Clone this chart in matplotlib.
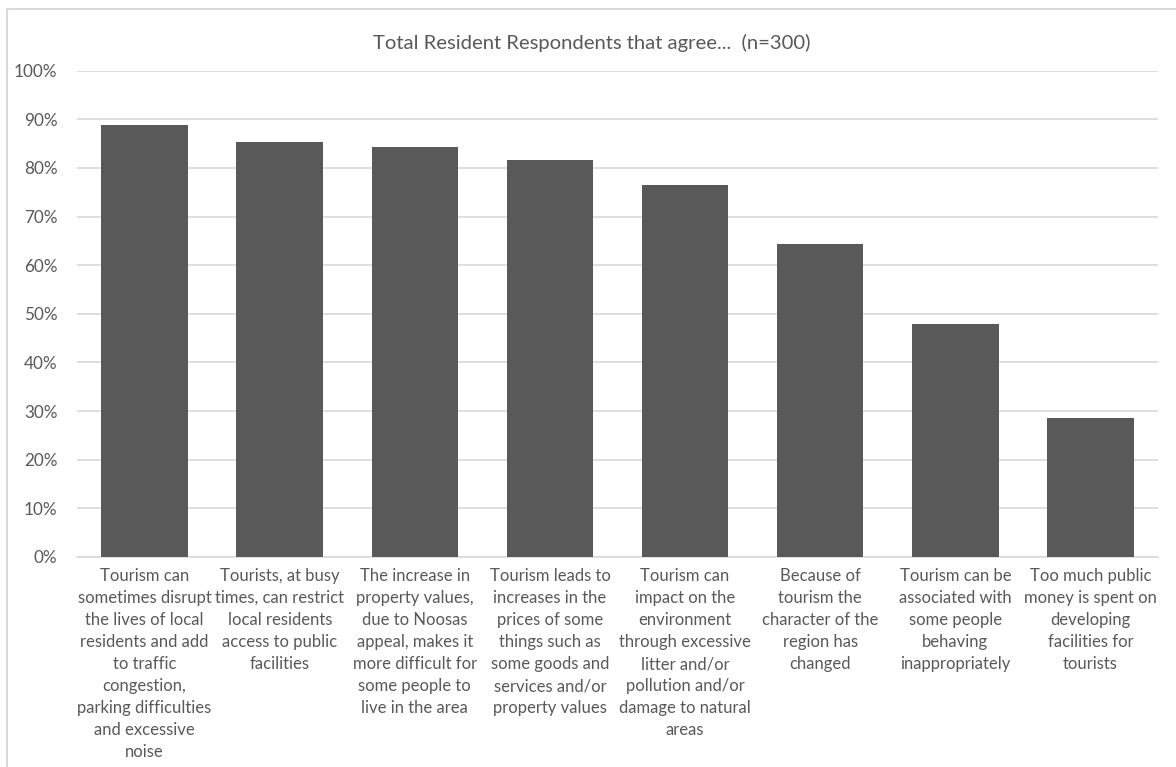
import matplotlib.pyplot as plt
from matplotlib.lines import Line2D
from matplotlib.ticker import PercentFormatter

plt.rcParams['font.family'] = ['Lato', 'DejaVu Sans']

title = 'Total Resident Respondents that agree...  (n=300)'

statements = [
    'Tourism can\nsometimes disrupt\nthe lives of local\nresidents and add\nto traffic\ncongestion,\nparking difficulties\nand excessive\nnoise',
    'Tourists, at busy\ntimes, can restrict\nlocal residents\naccess to public\nfacilities',
    'The increase in\nproperty values,\ndue to Noosas\nappeal, makes it\nmore difficult for\nsome people to\nlive in the area',
    'Tourism leads to\nincreases in the\nprices of some\nthings such as\nsome goods and\nservices and/or\nproperty values',
    'Tourism can\nimpact on the\nenvironment\nthrough excessive\nlitter and/or\npollution and/or\ndamage to natural\nareas',
    'Because of\ntourism the\ncharacter of the\nregion has\nchanged',
    'Tourism can be\nassociated with\nsome people\nbehaving\ninappropriately',
    'Too much public\nmoney is spent on\ndeveloping\nfacilities for\ntourists',
]
agree_pct = [88.9, 85.4, 84.3, 81.7, 76.5, 64.3, 48.0, 28.6]
y_ticks = [0, 10, 20, 30, 40, 50, 60, 70, 80, 90, 100]

text_col = '#595959'
grid_col = '#d9d9d9'

fig = plt.figure(figsize=(11.76, 7.67), dpi=100)
ax = fig.add_axes([0.0655, 0.2738, 0.9192, 0.634])

x = range(len(statements))
ax.bar(x, agree_pct, width=0.64, color='#595959', zorder=3)

ax.set_xlim(-0.5, len(statements) - 0.5)
ax.set_ylim(0, 100)
ax.set_yticks(y_ticks)
ax.yaxis.set_major_formatter(PercentFormatter(decimals=0))
ax.set_xticks(list(x))
ax.set_xticklabels(statements, fontsize=12.0, color=text_col, linespacing=1.46,
                   va='top', ha='center')
ax.tick_params(axis='x', length=0, pad=8)
ax.tick_params(axis='y', length=0, pad=14, labelsize=12.3, labelcolor=text_col)

ax.grid(axis='y', color=grid_col, linewidth=1.2, zorder=0)
for side in ['top', 'right', 'left']:
    ax.spines[side].set_visible(False)
ax.spines['bottom'].set_color(grid_col)
ax.spines['bottom'].set_linewidth(1.2)

fig.text(0.503, 0.944, title, ha='center', va='center', fontsize=14.6, color=text_col)

# light frame along the top and left edges
fig.add_artist(Line2D([7 / 1176, 1], [1 - 9 / 767, 1 - 9 / 767], color=grid_col, lw=1.5))
fig.add_artist(Line2D([7 / 1176, 7 / 1176], [0, 1 - 9 / 767], color=grid_col, lw=1.5))

fig.savefig('out.png', dpi=100)
